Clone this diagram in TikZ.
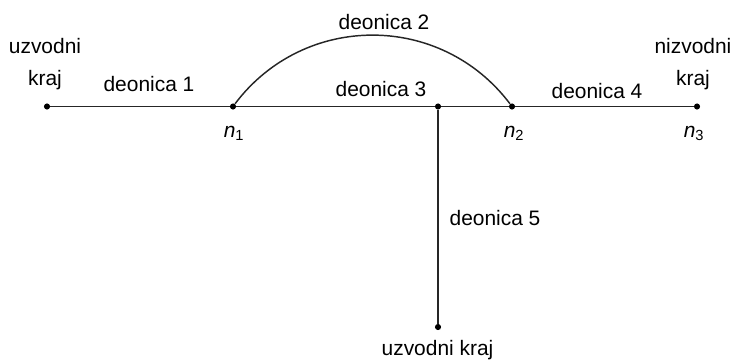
\documentclass[tikz,border=0pt]{standalone}
\usepackage{fontspec}
\setmainfont{Liberation Sans}

\begin{document}
\begin{tikzpicture}[
  x=0.75pt, y=-0.75pt,
  dot/.style={circle, fill=black, draw=none, inner sep=0pt, minimum size=4.6pt},
  edge/.style={line width=1.1pt, draw=black!85},
  lbl/.style={font=\fontsize{15.7}{24}\selectfont, inner sep=0pt, anchor=base},
  endlbl/.style={lbl, align=center, anchor=center}
]

%% page frame (pixel grid of the sketch, y pointing down)
\useasboundingbox (0,0) rectangle (734,361);

%% ─── NODES OF THE NETWORK ───────────────────────────────────────────────────
\node[dot] (upL) at (47, 106.5) {};
\node[dot] (n1)  at (233, 106.5) {};
\node[dot] (jn)  at (438, 106.5) {};
\node[dot] (n2)  at (512, 106.5) {};
\node[dot] (n3)  at (697, 106.5) {};
\node[dot] (upB) at (438, 327) {};

%% ─── REACHES ────────────────────────────────────────────────────────────────
\draw[edge] (upL) -- (n1);
\draw[edge] (n1) -- (jn);
\draw[edge] (jn) -- (n2);
\draw[edge] (n2) -- (n3);
\draw[edge] (n1) to[bend left=53, looseness=1.07] (n2);
\draw[edge] (jn) -- (upB);

%% ─── LABELS ─────────────────────────────────────────────────────────────────
\node[endlbl] (upL_lbl) at (45, 64.5) {uzvodni\\kraj};
\node[endlbl] (n3_lbl)  at (693, 64.5) {nizvodni\\kraj};
\node[lbl] (upB_lbl) at (437.5, 355) {uzvodni kraj};

\node[lbl] (d1) at (149, 91.5) {deonica 1};
\node[lbl] (d2) at (384, 29) {deonica 2};
\node[lbl] (d3) at (381, 96.5) {deonica 3};
\node[lbl] (d4) at (597, 98) {deonica 4};
\node[lbl] (d5) at (495, 225) {deonica 5};

\node[lbl] (n1_lbl) at (234, 137) {\textit{n}\textsubscript{1}};
\node[lbl] (n2_lbl) at (514, 137) {\textit{n}\textsubscript{2}};
\node[lbl] (n3_lbl2) at (694, 137) {\textit{n}\textsubscript{3}};

\end{tikzpicture}
\end{document}
